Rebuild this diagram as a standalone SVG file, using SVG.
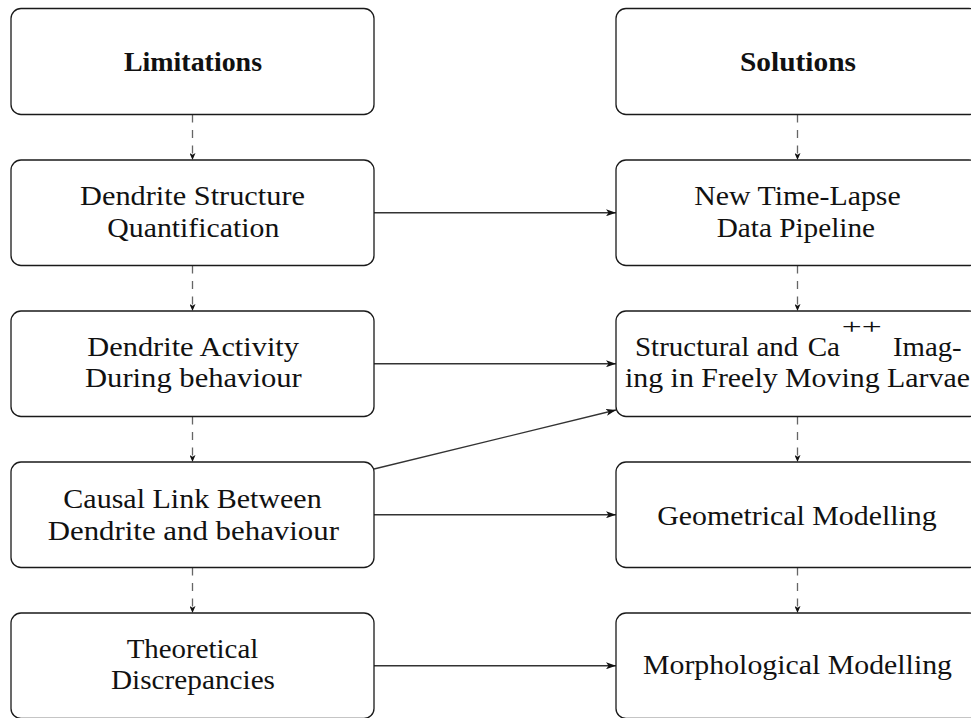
<svg xmlns="http://www.w3.org/2000/svg" width="971" height="718" viewBox="0 0 971 718">
  <style>
    .box { fill: #ffffff; stroke: #1a1a1a; stroke-width: 1.3; }
    .lbl { font-family: "Liberation Serif", "Times New Roman", serif; font-size: 27px; fill: #111111; }
    .hd { font-weight: bold; }
    .sup { font-family: "Liberation Serif", "Times New Roman", serif; font-size: 22px; fill: #111111; }
    .flow { stroke: #333333; stroke-width: 1.3; fill: none; marker-end: url(#tip); }
    .seq { stroke: #666666; stroke-width: 1.3; fill: none; stroke-dasharray: 8 7.5; marker-end: url(#tipSmall); }
  </style>
  <defs>
    <marker id="tip" viewBox="0 0 10 7" refX="10" refY="3.5" markerWidth="10" markerHeight="7" markerUnits="userSpaceOnUse" orient="auto">
      <path d="M0,0 L10,3.5 L0,7 L2.5,3.5 z" fill="#111111"/>
    </marker>
    <marker id="tipSmall" viewBox="0 0 7 6" refX="7" refY="3" markerWidth="7" markerHeight="6" markerUnits="userSpaceOnUse" orient="auto">
      <path d="M0,0 L7,3 L0,6 L1.8,3 z" fill="#111111"/>
    </marker>
  </defs>

  <!-- connectors -->
  <g id="connectors">
    <!-- left column sequence -->
    <line class="seq" x1="192.5" y1="114.5" x2="192.5" y2="160"/>
    <line class="seq" x1="192.5" y1="265.5" x2="192.5" y2="311"/>
    <line class="seq" x1="192.5" y1="416.5" x2="192.5" y2="462"/>
    <line class="seq" x1="192.5" y1="567.5" x2="192.5" y2="613"/>
    <!-- right column sequence -->
    <line class="seq" x1="797.5" y1="114.5" x2="797.5" y2="160"/>
    <line class="seq" x1="797.5" y1="265.5" x2="797.5" y2="311"/>
    <line class="seq" x1="797.5" y1="416.5" x2="797.5" y2="462"/>
    <line class="seq" x1="797.5" y1="567.5" x2="797.5" y2="613"/>
    <!-- limitation to solution links -->
    <line class="flow" x1="374" y1="212.75" x2="616" y2="212.75"/>
    <line class="flow" x1="374" y1="363.75" x2="616" y2="363.75"/>
    <line class="flow" x1="374" y1="469" x2="616" y2="410"/>
    <line class="flow" x1="374" y1="514.75" x2="616" y2="514.75"/>
    <line class="flow" x1="374" y1="665.75" x2="616" y2="665.75"/>
  </g>

  <!-- left column -->
  <g id="limitations">
    <rect class="box" x="11" y="8.5" width="363" height="106" rx="10"/>
    <text class="lbl hd" x="124" y="70.5" textLength="138" lengthAdjust="spacingAndGlyphs">Limitations</text>
  </g>
  <g id="structure-quantification">
    <rect class="box" x="11" y="160" width="363" height="105.5" rx="10"/>
    <text class="lbl" x="80" y="204.5" textLength="225" lengthAdjust="spacingAndGlyphs">Dendrite Structure</text>
    <text class="lbl" x="107.3" y="236.7" textLength="172" lengthAdjust="spacingAndGlyphs">Quantification</text>
  </g>
  <g id="activity-behaviour">
    <rect class="box" x="11" y="311" width="363" height="105.5" rx="10"/>
    <text class="lbl" x="87.3" y="355.5" textLength="211.7" lengthAdjust="spacingAndGlyphs">Dendrite Activity</text>
    <text class="lbl" x="85" y="387.2" textLength="216.7" lengthAdjust="spacingAndGlyphs">During behaviour</text>
  </g>
  <g id="causal-link">
    <rect class="box" x="11" y="462" width="363" height="105.5" rx="10"/>
    <text class="lbl" x="63.3" y="507.5" textLength="258.4" lengthAdjust="spacingAndGlyphs">Causal Link Between</text>
    <text class="lbl" x="47.7" y="539.5" textLength="291.3" lengthAdjust="spacingAndGlyphs">Dendrite and behaviour</text>
  </g>
  <g id="theoretical-discrepancies">
    <rect class="box" x="11" y="613" width="363" height="105.5" rx="10"/>
    <text class="lbl" x="126.7" y="657.5" textLength="131.6" lengthAdjust="spacingAndGlyphs">Theoretical</text>
    <text class="lbl" x="111" y="689.2" textLength="164" lengthAdjust="spacingAndGlyphs">Discrepancies</text>
  </g>

  <!-- right column -->
  <g id="solutions">
    <rect class="box" x="616" y="8.5" width="363" height="106" rx="10"/>
    <text class="lbl hd" x="740" y="70.5" textLength="116" lengthAdjust="spacingAndGlyphs">Solutions</text>
  </g>
  <g id="time-lapse-pipeline">
    <rect class="box" x="616" y="160" width="363" height="105.5" rx="10"/>
    <text class="lbl" x="694.3" y="204.5" textLength="206.4" lengthAdjust="spacingAndGlyphs">New Time-Lapse</text>
    <text class="lbl" x="716.7" y="236.7" textLength="158.3" lengthAdjust="spacingAndGlyphs">Data Pipeline</text>
  </g>
  <g id="imaging-larvae">
    <rect class="box" x="616" y="311" width="363" height="105.5" rx="10"/>
    <text class="lbl" x="635" y="355.5" textLength="163.3" lengthAdjust="spacingAndGlyphs">Structural and</text>
    <text class="lbl" x="807.7" y="355.5" textLength="32.3" lengthAdjust="spacingAndGlyphs">Ca</text>
    <text class="sup" x="841.7" y="333.5" textLength="40" lengthAdjust="spacingAndGlyphs">++</text>
    <text class="lbl" x="893" y="355.5" textLength="68.7" lengthAdjust="spacingAndGlyphs">Imag-</text>
    <text class="lbl" x="625" y="386.7" textLength="345" lengthAdjust="spacingAndGlyphs">ing in Freely Moving Larvae</text>
  </g>
  <g id="geometrical-modelling">
    <rect class="box" x="616" y="462" width="363" height="105.5" rx="10"/>
    <text class="lbl" x="657.3" y="524.5" textLength="279.4" lengthAdjust="spacingAndGlyphs">Geometrical Modelling</text>
  </g>
  <g id="morphological-modelling">
    <rect class="box" x="616" y="613" width="363" height="105.5" rx="10"/>
    <text class="lbl" x="643" y="674" textLength="309" lengthAdjust="spacingAndGlyphs">Morphological Modelling</text>
  </g>
</svg>
